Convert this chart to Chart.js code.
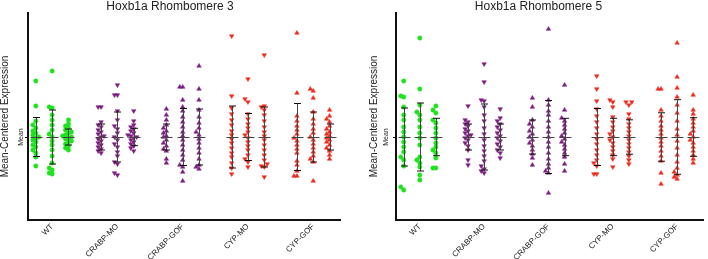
<!DOCTYPE html>
<html>
<head>
<meta charset="utf-8">
<script src="https://cdn.jsdelivr.net/npm/chart.js@4.4.1/dist/chart.umd.min.js"></script>
<style>
  body { margin: 0; background: #fff; }
  .row { display: flex; width: 708px; height: 259px; }
  canvas { display: block; }
</style>
</head>
<body>
<div class="row">
  <canvas id="r3" width="354" height="259"></canvas>
  <canvas id="r5" width="354" height="259"></canvas>
</div>
<script>
// categories on the x axis, three replicates each
const categories = ['WT', 'CRABP-MO', 'CRABP-GOF', 'CYP-MO', 'CYP-GOF'];

// Rhombomere 3, mean-centered values per replicate
const r3WT = [
  [5.6, 3.1, 1.6, 1.2, 0.9, 0.6, 0.4, 0.2, 0.0, -0.1, -0.3, -0.5, -0.8, -1.0, -1.3, -1.6, -2.0, -2.9],
  [6.6, 3.0, 2.9, 2.2, 1.7, 1.2, 0.7, 0.3, 0.0, -0.4, -0.8, -1.3, -1.9, -2.6, -3.1, -3.3, -3.6, -3.7],
  [1.7, 1.3, 1.1, 0.9, 0.7, 0.5, 0.4, 0.2, 0.1, 0.0, -0.1, -0.2, -0.4, -0.5, -0.7, -0.9, -1.1, -1.3]
];
const r3CrabpMO = [
  [3.0, 3.0, 1.5, 1.2, 1.0, 0.7, 0.5, 0.3, 0.1, 0.0, -0.2, -0.4, -0.6, -0.8, -1.0, -1.2, -1.4, -1.6],
  [5.2, 4.2, 4.2, 2.6, 1.7, 1.1, 0.8, 0.4, 0.0, -0.3, -0.7, -1.0, -1.5, -1.9, -2.5, -2.7, -3.6, -3.8],
  [2.6, 1.6, 1.2, 1.0, 0.8, 0.6, 0.4, 0.2, 0.1, 0.0, -0.1, -0.3, -0.5, -0.7, -0.9, -1.1, -1.4]
];
const r3CrabpGOF = [
  [2.8, 2.2, 1.7, 1.2, 0.9, 0.6, 0.4, 0.1, 0.0, -0.3, -0.6, -0.9, -1.2, -1.4, -2.2, -2.6],
  [5.0, 5.0, 3.7, 3.0, 2.6, 2.0, 1.5, 1.0, 0.5, 0.1, -0.3, -0.8, -1.3, -1.8, -2.3, -2.8, -3.0, -3.5, -4.4],
  [7.1, 4.8, 3.7, 2.7, 2.0, 1.4, 0.9, 0.5, 0.2, -0.2, -0.6, -1.1, -1.6, -2.2, -2.8, -3.0, -3.2]
];
const r3CypMO = [
  [10.1, 4.1, 2.9, 2.3, 1.7, 1.2, 0.6, 0.2, -0.2, -0.6, -1.1, -1.6, -2.0, -2.6, -3.1, -3.7],
  [5.8, 3.8, 3.5, 2.3, 1.8, 1.3, 0.9, 0.5, 0.2, -0.1, -0.5, -0.9, -1.3, -1.8, -2.2, -2.5, -3.0],
  [8.2, 3.1, 3.0, 2.7, 2.2, 1.6, 1.0, 0.5, 0.1, -0.3, -0.8, -1.3, -1.8, -2.3, -2.7, -2.9, -3.0, -4.0]
];
const r3CypGOF = [
  [10.4, 4.4, 2.1, 1.6, 1.1, 0.7, 0.3, -0.1, -0.4, -0.8, -1.2, -1.6, -2.4, -2.8, -3.4, -3.9, -3.9],
  [4.8, 4.6, 3.9, 2.5, 1.8, 1.3, 0.8, 0.4, 0.0, -0.3, -0.7, -1.1, -1.5, -1.9, -2.2, -2.5, -4.4],
  [2.7, 2.1, 1.8, 1.5, 1.1, 0.8, 0.5, 0.3, 0.1, -0.1, -0.3, -0.5, -0.8, -1.1, -1.4, -1.8, -2.2]
];
// standard deviation per replicate (error bars)
const r3SD = [[1.95, 2.7, 0.8], [1.3, 2.5, 0.87], [1.3, 2.85, 2.8], [3.1, 2.35, 3.0], [3.35, 2.5, 1.3]];

// Rhombomere 5
const r5WT = [
  [5.6, 4.1, 4.0, 3.0, 2.2, 1.7, 1.0, 0.5, 0.0, -0.5, -1.0, -1.5, -2.0, -2.3, -2.9, -5.0, -5.3],
  [9.9, 4.8, 3.2, 2.5, 2.2, 1.7, 1.0, 0.4, -0.1, -0.8, -2.0, -2.3, -2.6, -3.0, -3.8, -4.3],
  [3.1, 2.7, 2.4, 1.7, 1.4, 0.9, 0.4, -0.1, -0.6, -1.0, -1.3, -1.6, -2.1, -3.1, -3.1]
];
const r5CrabpMO = [
  [3.1, 1.7, 1.5, 1.3, 1.1, 0.8, 0.6, 0.4, 0.2, 0.1, -0.1, -0.3, -0.6, -0.9, -1.3, -2.3, -2.8],
  [7.3, 5.5, 3.7, 3.6, 3.0, 2.2, 1.6, 0.9, 0.3, -0.3, -0.9, -1.4, -1.9, -2.4, -2.9, -3.2, -3.4, -3.6],
  [2.8, 1.9, 1.6, 1.3, 1.0, 0.7, 0.4, 0.1, -0.1, -0.4, -0.7, -1.0, -1.3, -1.6, -2.1]
];
const r5CrabpGOF = [
  [3.9, 3.0, 1.7, 1.3, 1.0, 0.6, 0.3, 0.0, -0.3, -0.6, -0.9, -1.3, -1.7, -2.1, -2.8],
  [10.8, 3.7, 3.2, 2.6, 2.2, 1.6, 1.0, 0.5, 0.0, -0.5, -1.0, -1.6, -2.2, -2.7, -3.1, -3.4, -3.6, -5.6],
  [5.2, 2.7, 1.9, 1.6, 1.2, 0.8, 0.4, 0.1, -0.2, -0.5, -0.8, -1.2, -1.6, -2.0, -2.7, -3.4]
];
const r5CypMO = [
  [6.1, 4.8, 3.6, 2.8, 2.1, 1.5, 0.9, 0.3, -0.2, -0.7, -1.3, -1.8, -2.3, -2.6, -2.9, -3.7, -3.7],
  [3.7, 3.5, 3.0, 2.0, 1.5, 1.0, 0.6, 0.3, 0.0, -0.3, -0.6, -1.0, -1.4, -1.8, -2.2, -3.0],
  [3.5, 3.5, 3.2, 2.3, 1.8, 1.3, 0.9, 0.5, 0.1, -0.3, -0.7, -1.1, -1.5, -1.9, -2.3, -2.7]
];
const r5CypGOF = [
  [4.8, 4.8, 2.7, 2.1, 1.6, 1.1, 0.7, 0.3, -0.1, -0.5, -0.9, -1.4, -1.9, -2.4, -3.6, -4.7],
  [9.4, 6.0, 4.9, 4.0, 3.2, 2.4, 1.6, 0.8, 0.2, -0.4, -1.1, -1.8, -2.5, -3.1, -3.5, -3.8, -4.0, -4.2],
  [4.2, 2.7, 2.3, 1.8, 1.4, 1.0, 0.6, 0.3, 0.0, -0.3, -0.6, -1.0, -1.4, -1.8, -2.2, -2.6]
];
const r5SD = [[2.9, 3.4, 1.87], [1.3, 3.3, 1.3], [1.7, 3.65, 1.87], [2.85, 1.87, 1.72], [2.42, 3.73, 1.93]];

// marker look per category
const colors = ['#1fe21f', '#7d1d80', '#7d1d80', '#ee2a1c', '#ee2a1c'];
const shapes = ['circle', 'triangle', 'triangle', 'triangle', 'triangle'];
const rotations = [0, 180, 0, 180, 0];
const repOffsets = [-0.25, 0, 0.25];

Chart.defaults.font.family = "'Liberation Sans', Arial, sans-serif";
Chart.defaults.color = '#222';

// simple beeswarm: spread points sideways when they sit close in y
function swarm(vals) {
  const step = 0.045, gap = 0.38;
  const placed = [];
  const offs = new Array(vals.length).fill(0);
  const order = vals.map((v, i) => i).sort((a, b) => vals[a] - vals[b]);
  order.forEach(i => {
    for (const k of [0, -1, 1, -2, 2]) {
      if (!placed.some(p => p.k === k && Math.abs(p.v - vals[i]) < gap)) {
        offs[i] = k * step;
        placed.push({k: k, v: vals[i]});
        break;
      }
    }
  });
  return offs;
}

function errorBars(sd) {
  return {
    id: 'errorBars',
    afterDatasetsDraw(chart) {
      const {ctx, scales: {x, y}} = chart;
      const y0 = Math.round(y.getPixelForValue(0)) + 0.5;
      ctx.save();
      ctx.lineWidth = 1;
      sd.forEach((reps, c) => reps.forEach((s, r) => {
        const px = Math.round(x.getPixelForValue(c + 1 + repOffsets[r])) + 0.5;
        const yt = y.getPixelForValue(s), yb = y.getPixelForValue(-s);
        ctx.strokeStyle = '#444';
        ctx.beginPath();
        ctx.moveTo(px, yt); ctx.lineTo(px, yb);
        ctx.moveTo(px - 6, y0); ctx.lineTo(px + 6, y0);
        ctx.stroke();
        ctx.strokeStyle = '#111';
        ctx.beginPath();
        ctx.moveTo(px - 3.5, yt); ctx.lineTo(px + 3.5, yt);
        ctx.moveTo(px - 3.5, yb); ctx.lineTo(px + 3.5, yb);
        ctx.stroke();
      }));
      ctx.restore();
    }
  };
}

function makeChart(id, title, groups, sd, pad, axisWidth, meanPad) {
  const datasets = groups.map((reps, c) => {
    const pts = [];
    reps.forEach((vals, r) => {
      const offs = swarm(vals);
      vals.forEach((v, i) => pts.push({x: c + 1 + repOffsets[r] + offs[i], y: v}));
    });
    return {
      label: categories[c],
      data: pts,
      pointStyle: shapes[c],
      pointRotation: rotations[c],
      pointRadius: shapes[c] === 'circle' ? 2.2 : 2.6,
      backgroundColor: colors[c],
      borderColor: colors[c],
      borderWidth: 0.5,
      clip: false
    };
  });

  return new Chart(document.getElementById(id), {
    type: 'scatter',
    data: {datasets: datasets},
    options: {
      responsive: false,
      animation: false,
      layout: {padding: pad},
      plugins: {
        legend: {display: false},
        tooltip: {enabled: false},
        title: {
          display: true,
          text: title,
          color: '#222',
          font: {size: 12, weight: 'normal', lineHeight: 1},
          padding: {top: 1, bottom: 0}
        }
      },
      scales: {
        x: {
          type: 'linear',
          min: 0.63,
          max: 5.41,
          afterBuildTicks: s => { s.ticks = categories.map((c, i) => ({value: i + 1})); },
          afterFit: s => { s.height = 39; },
          grid: {display: false, drawTicks: false},
          border: {display: true, color: '#111', width: 2},
          ticks: {
            autoSkip: false,
            minRotation: 45,
            maxRotation: 45,
            padding: 2,
            color: '#222',
            font: {size: 8},
            callback: (v, i) => categories[i]
          }
        },
        y: {
          min: -8.3,
          max: 12.4,
          afterBuildTicks: s => { s.ticks = [{value: 0}]; },
          afterFit: s => { s.width = axisWidth; },
          grid: {drawOnChartArea: false, drawTicks: true, tickLength: 3, color: '#111'},
          border: {display: true, color: '#111', width: 2},
          title: {
            display: true,
            text: 'Mean-Centered Expression',
            color: '#222',
            font: {size: 10, lineHeight: 1},
            padding: 0
          },
          ticks: {
            minRotation: 90,
            maxRotation: 90,
            crossAlign: 'center',
            padding: meanPad,
            color: '#222',
            font: {size: 7},
            callback: () => 'Mean'
          }
        }
      }
    },
    plugins: [errorBars(sd)]
  });
}

makeChart('r3', 'Hoxb1a Rhombomere 3', [r3WT, r3CrabpMO, r3CrabpGOF, r3CypMO, r3CypGOF], r3SD,
  {left: 0, right: 14, top: 0, bottom: 0}, 28, -5);
makeChart('r5', 'Hoxb1a Rhombomere 5', [r5WT, r5CrabpMO, r5CrabpGOF, r5CypMO, r5CypGOF], r5SD,
  {left: 15, right: 0, top: 0, bottom: 0}, 27, -2);
</script>
</body>
</html>
